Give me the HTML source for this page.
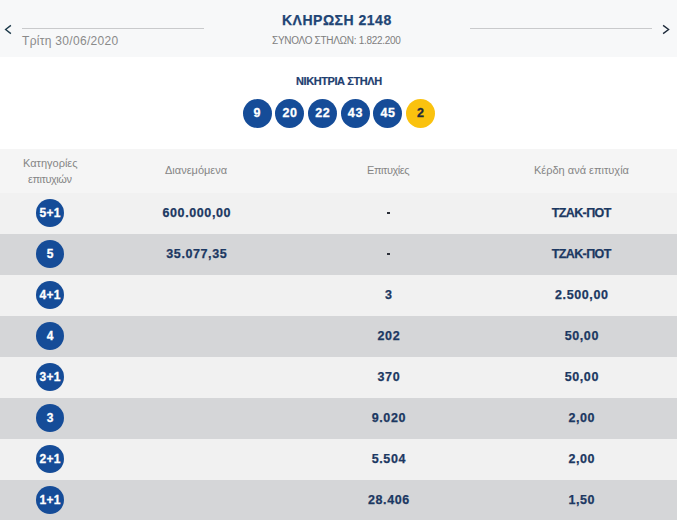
<!DOCTYPE html>
<html><head><meta charset="utf-8">
<style>
html,body{margin:0;padding:0;}
body{width:677px;height:520px;overflow:hidden;position:relative;background:#fff;font-family:"Liberation Sans",sans-serif;}
.a{position:absolute;}
.t{position:absolute;white-space:nowrap;line-height:1;}
#hdr{left:0;top:0;width:677px;height:57px;background:#f7f8f9;}
.line{position:absolute;height:1px;background:#c9cacc;top:28px;}
.ball{position:absolute;width:29px;height:29px;border-radius:50%;background:#154c98;top:99px;color:#fff;font-weight:bold;font-size:12.5px;line-height:29px;text-align:center;letter-spacing:0.6px;text-indent:0.6px;-webkit-text-stroke:0.3px #fff;}
.ball.y{background:#fac20e;color:#222a3a;-webkit-text-stroke:0.3px #222a3a;}
.row{position:absolute;left:0;width:677px;height:41px;}
.odd{background:#f1f1f1;}
.even{background:#d5d6d8;}
.cat{position:absolute;left:36px;top:6px;width:28px;height:28px;border-radius:50%;background:#154c98;color:#fff;font-weight:bold;font-size:12px;line-height:28px;text-align:center;letter-spacing:0.3px;text-indent:0.3px;-webkit-text-stroke:0.3px #fff;}
.v{position:absolute;top:0;height:40px;line-height:40px;font-size:12.5px;font-weight:bold;color:#1c3862;text-align:center;white-space:nowrap;letter-spacing:0.6px;text-indent:0.6px;-webkit-text-stroke:0.25px #1c3862;}
.c2{left:146.5px;width:100px;}
.c3{left:338.6px;width:100px;}
.c4{left:531.5px;width:100px;}
.v.jp{letter-spacing:-0.6px;text-indent:-0.6px;}
.dash{position:absolute;left:386.5px;top:19px;width:3.5px;height:2px;background:#2b2f38;}
.h{position:absolute;font-size:11px;color:#858585;white-space:nowrap;line-height:1;}
</style></head><body>
<div id="hdr" class="a">
  <svg class="a" style="left:0;top:20px" width="16" height="20" viewBox="0 0 16 20"><path d="M10.9 5.4 L5.6 9.5 L10.9 13.6" fill="none" stroke="#1d3a4a" stroke-width="1.35"/></svg>
  <div class="line" style="left:22px;width:182px"></div>
  <div class="t" style="left:22px;top:35px;font-size:12px;color:#8a8a8a;letter-spacing:0.3px">Τρίτη 30/06/2020</div>
  <div class="t" style="left:282px;top:13px;font-size:14px;font-weight:bold;color:#1f4575;letter-spacing:0.5px;-webkit-text-stroke:0.25px #1f4575">ΚΛΗΡΩΣΗ 2148</div>
  <div class="t" style="left:272px;top:36px;font-size:10px;color:#7e7e7e;letter-spacing:-0.3px">ΣΥΝΟΛΟ ΣΤΗΛΩΝ: 1.822.200</div>
  <div class="line" style="left:470px;width:182px"></div>
  <svg class="a" style="left:658px;top:20px" width="16" height="20" viewBox="0 0 16 20"><path d="M5.1 5.4 L10.6 9.5 L5.1 13.6" fill="none" stroke="#1d2a3a" stroke-width="1.35"/></svg>
</div>
<div class="t" style="left:296px;top:76px;font-size:11px;font-weight:bold;color:#1f4070;letter-spacing:-0.42px;-webkit-text-stroke:0.2px #1f4070">ΝΙΚΗΤΡΙΑ ΣΤΗΛΗ</div>
<div class="ball" style="left:242.5px">9</div>
<div class="ball" style="left:275.2px">20</div>
<div class="ball" style="left:307.9px">22</div>
<div class="ball" style="left:340.6px">43</div>
<div class="ball" style="left:373.3px">45</div>
<div class="ball y" style="left:406px">2</div>

<div class="a" style="left:0;top:149px;width:677px;height:44px;background:#f5f5f5">
  <div class="h" style="left:23px;top:8.6px">Κατηγορίες</div>
  <div class="h" style="left:28px;top:25.4px;letter-spacing:-0.45px">επιτυχιών</div>
  <div class="h" style="left:165px;top:16px">Διανεμόμενα</div>
  <div class="h" style="left:367px;top:16px;letter-spacing:-0.45px">Επιτυχίες</div>
  <div class="h" style="left:534px;top:16px">Κέρδη ανά επιτυχία</div>
</div>

<div class="row odd" style="top:193px"><div class="cat">5+1</div><div class="v c2">600.000,00</div><div class="dash"></div><div class="v c4 jp">ΤΖΑΚ-ΠΟΤ</div></div>
<div class="row even" style="top:234px"><div class="cat">5</div><div class="v c2">35.077,35</div><div class="dash"></div><div class="v c4 jp">ΤΖΑΚ-ΠΟΤ</div></div>
<div class="row odd" style="top:275px"><div class="cat">4+1</div><div class="v c3">3</div><div class="v c4">2.500,00</div></div>
<div class="row even" style="top:316px"><div class="cat">4</div><div class="v c3">202</div><div class="v c4">50,00</div></div>
<div class="row odd" style="top:357px"><div class="cat">3+1</div><div class="v c3">370</div><div class="v c4">50,00</div></div>
<div class="row even" style="top:398px"><div class="cat">3</div><div class="v c3">9.020</div><div class="v c4">2,00</div></div>
<div class="row odd" style="top:439px"><div class="cat">2+1</div><div class="v c3">5.504</div><div class="v c4">2,00</div></div>
<div class="row even" style="top:480px"><div class="cat">1+1</div><div class="v c3">28.406</div><div class="v c4">1,50</div></div>
</body></html>
